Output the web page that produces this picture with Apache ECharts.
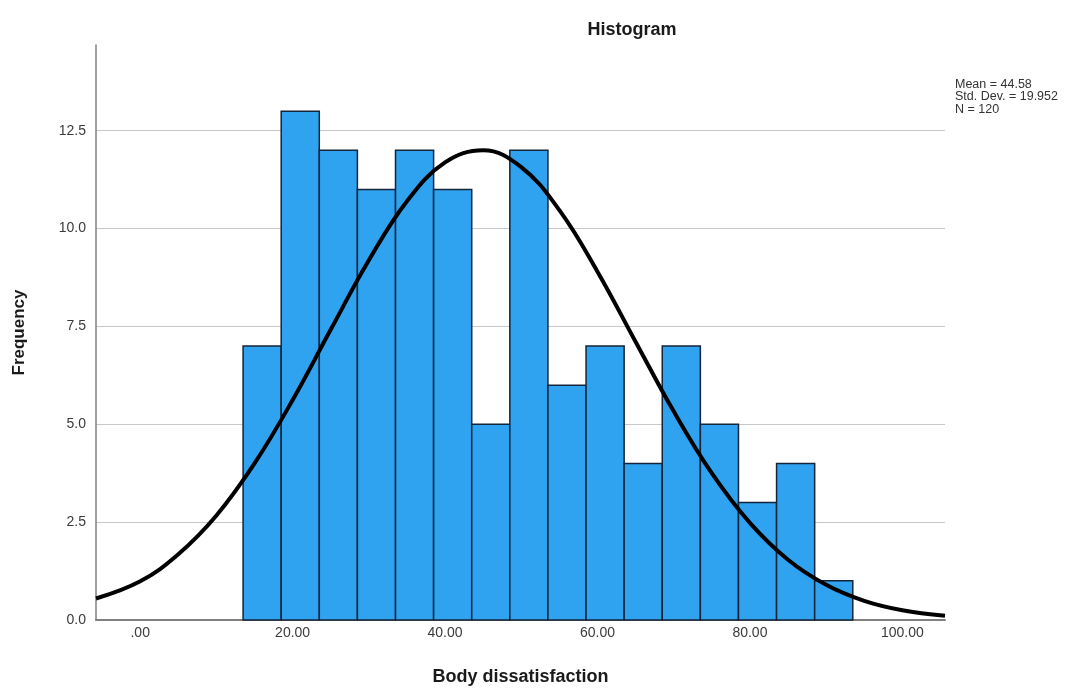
<!DOCTYPE html>
<html>
<head>
<meta charset="utf-8">
<script src="https://cdn.jsdelivr.net/npm/echarts@6/dist/echarts.min.js"></script>
<style>
html,body{margin:0;padding:0;background:#fff;}
#chart{width:1092px;height:691px;}
</style>
</head>
<body>
<div id="chart"></div>
<script>
// Histogram bins (edges) and counts
var binEdges = [13.5, 18.5, 23.5, 28.5, 33.5, 38.5, 43.5, 48.5, 53.5, 58.5, 63.5, 68.5, 73.5, 78.5, 83.5, 88.5, 93.5];
var counts = [7, 13, 12, 11, 12, 11, 5, 12, 6, 7, 4, 7, 5, 3, 4, 1];
// Normal curve points
var curveX = [-5.8, 0, 5, 10, 15, 20, 25, 30, 35, 40, 45, 50, 55, 60, 65, 70, 75, 80, 85, 90, 95, 100, 105.6];
var curveY = [0.55, 0.99, 1.68, 2.67, 4.0, 5.62, 7.42, 9.19, 10.7, 11.69, 12.0, 11.57, 10.47, 8.9, 7.11, 5.33, 3.75, 2.48, 1.54, 0.9, 0.49, 0.25, 0.11];
var xTicks = [0, 20, 40, 60, 80, 100];
var yTicks = [0, 2.5, 5, 7.5, 10, 12.5];
var statsLines = ['Mean = 44.58', 'Std. Dev. = 19.952', 'N = 120'];

var barData = counts.map(function (c, i) { return [binEdges[i], binEdges[i + 1], c]; });
var lineData = curveX.map(function (x, i) { return [x, curveY[i]]; });

var chart = echarts.init(document.getElementById('chart'), null, {renderer: 'canvas'});
var font = 'Liberation Sans, Arial, sans-serif';
chart.setOption({
  animation: false,
  backgroundColor: '#ffffff',
  title: {
    text: 'Histogram',
    left: 627, top: 16, textAlign: 'center',
    textStyle: {fontFamily: font, fontSize: 18, fontWeight: 'bold', color: '#1a1a1a'}
  },
  grid: {left: 96, right: 147, top: 45, bottom: 69, containLabel: false},
  xAxis: {
    type: 'value', min: -5.8, max: 105.6,
    name: 'Body dissatisfaction', nameLocation: 'middle', nameGap: 48,
    nameTextStyle: {fontFamily: font, fontSize: 18, fontWeight: 'bold', color: '#1a1a1a'},
    axisLine: {onZero: false, lineStyle: {color: '#808080', width: 2}},
    axisTick: {show: false},
    splitLine: {show: false},
    axisLabel: {
      customValues: xTicks, margin: 6,
      fontFamily: font, fontSize: 14, color: '#3a3a3a',
      formatter: function (v) { return v === 0 ? '.00' : v.toFixed(2); }
    }
  },
  yAxis: {
    type: 'value', min: 0, max: 14.69, interval: 2.5,
    name: 'Frequency', nameLocation: 'middle', nameGap: 68, nameRotate: 90,
    nameTextStyle: {fontFamily: font, fontSize: 17, fontWeight: 'bold', color: '#1a1a1a'},
    axisLine: {show: true, onZero: false, lineStyle: {color: '#808080', width: 1.5}},
    axisTick: {show: false},
    splitLine: {show: true, showMinLine: false, showMaxLine: false, lineStyle: {color: '#c8c8c8', width: 1}},
    axisLabel: {
      customValues: yTicks, margin: 10,
      fontFamily: font, fontSize: 14, color: '#3a3a3a',
      formatter: function (v) { return v.toFixed(1); }
    }
  },
  graphic: [{
    type: 'text', left: 955, top: 78,
    style: {text: statsLines.join('\n'), font: '12.5px ' + font, fill: '#333', lineHeight: 12.5}
  }],
  series: [{
    type: 'custom',
    data: barData,
    encode: {x: [0, 1], y: 2},
    renderItem: function (params, api) {
      var p0 = api.coord([api.value(0), api.value(2)]);
      var p1 = api.coord([api.value(1), 0]);
      return {
        type: 'rect',
        shape: {x: p0[0], y: p0[1], width: p1[0] - p0[0], height: p1[1] - p0[1]},
        style: {fill: '#2fa3f0', stroke: '#14243a', lineWidth: 1.5}
      };
    },
    z: 2
  }, {
    type: 'line',
    data: lineData,
    smooth: 0.4,
    showSymbol: false,
    lineStyle: {color: '#000', width: 4},
    z: 3
  }]
});
</script>
</body>
</html>
